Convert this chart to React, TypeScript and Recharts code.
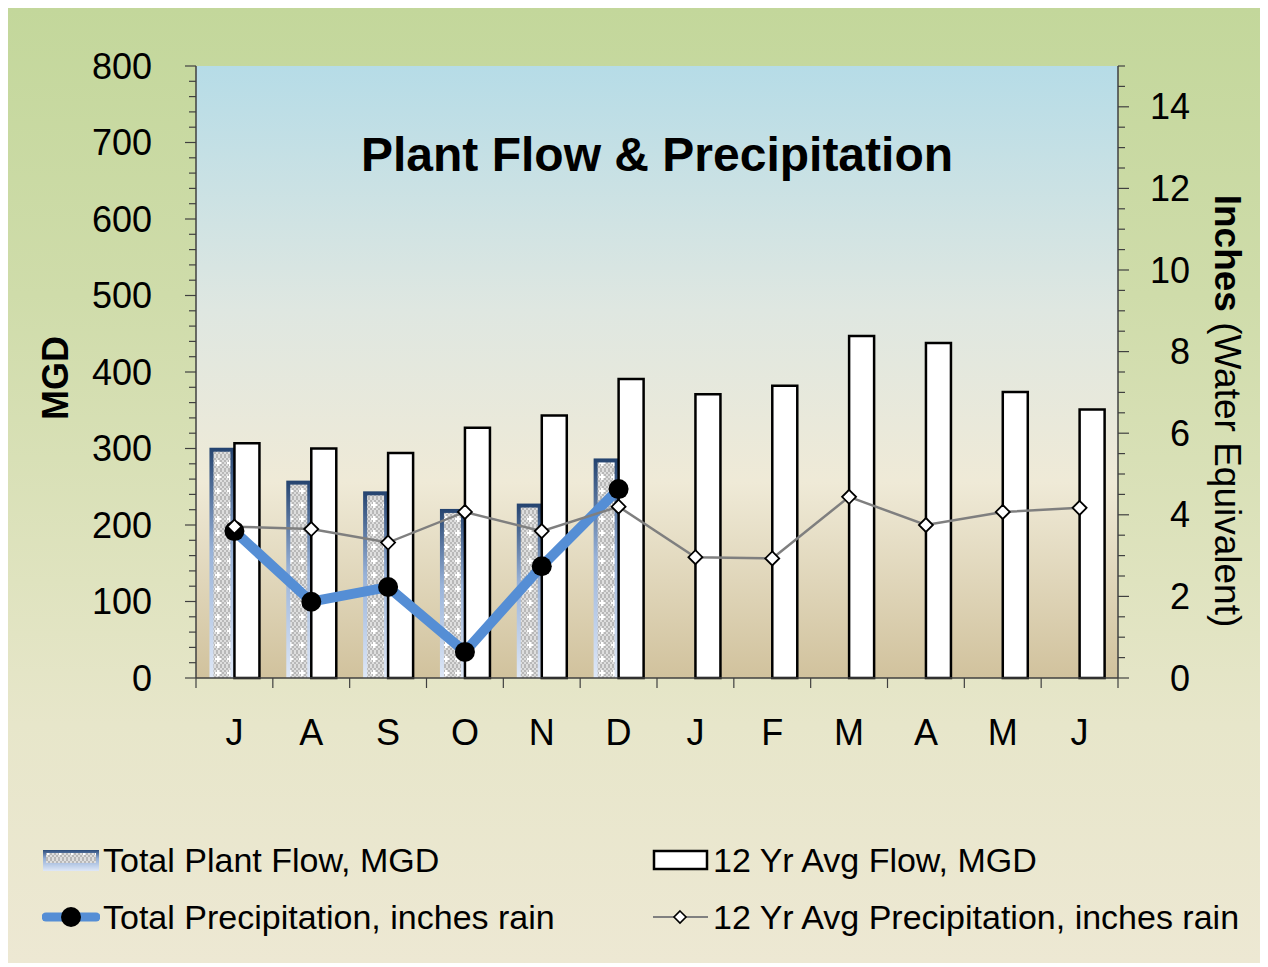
import {
  ComposedChart,
  Bar,
  Line,
  XAxis,
  YAxis,
  CartesianGrid,
  Legend,
} from "recharts";

const months = ["J", "A", "S", "O", "N", "D", "J", "F", "M", "A", "M", "J"];
const plantFlow = [301, 258, 244, 221, 228, 287, null, null, null, null, null, null];
const avgFlow = [307, 300, 294, 327, 343, 391, 371, 382, 447, 438, 374, 351];
const precip = [3.6, 1.87, 2.23, 0.64, 2.74, 4.63, null, null, null, null, null, null];
const avgPrecip = [3.71, 3.65, 3.32, 4.07, 3.6, 4.2, 2.96, 2.93, 4.44, 3.75, 4.07, 4.17];

const leftTicks = Array.from({ length: 41 }, (_, i) => i * 20);
const rightTicks = Array.from({ length: 31 }, (_, i) => i * 0.5);

const data = months.map((m, i) => ({
  key: `${i}`,
  month: m,
  plant: plantFlow[i],
  avgFlow: avgFlow[i],
  precip: precip[i],
  avgPrecip: avgPrecip[i],
}));

const W = 1254;
const H = 955;
const margin = { top: 58, left: 88, right: 44, bottom: 205 };
const plotW = W - margin.left - margin.right - 200;
const band = plotW / months.length;
const font = "'Liberation Sans', Arial, sans-serif";
const axisColor = "#404040";

const LeftTick = (props: any) => {
  const { x, y, payload } = props;
  const major = payload.value % 100 === 0;
  return (
    <g>
      <line x1={x - (major ? 11 : 7)} x2={x} y1={y} y2={y} stroke={axisColor} strokeWidth={1.2} />
      {major && (
        <text x={x - 44} y={y} textAnchor="end" dominantBaseline="central" fontSize={36} fontFamily={font} fill="#000">
          {payload.value}
        </text>
      )}
    </g>
  );
};

const RightTick = (props: any) => {
  const { x, y, payload } = props;
  const v = payload.value;
  const major = v % 2 === 0;
  return (
    <g>
      <line x1={x} x2={x + (major ? 11 : 7)} y1={y} y2={y} stroke={axisColor} strokeWidth={1.2} />
      {major && (
        <text x={x + 72} y={y} textAnchor="end" dominantBaseline="central" fontSize={36} fontFamily={font} fill="#000">
          {v}
        </text>
      )}
    </g>
  );
};

const XTick = (props: any) => {
  const { x, y, index } = props;
  return (
    <g>
      <line x1={x - band / 2} x2={x - band / 2} y1={y} y2={y + 10} stroke={axisColor} strokeWidth={1.2} />
      {index === months.length - 1 && (
        <line x1={x + band / 2} x2={x + band / 2} y1={y} y2={y + 10} stroke={axisColor} strokeWidth={1.2} />
      )}
      <text x={x} y={y + 54} textAnchor="middle" dominantBaseline="central" fontSize={36} fontFamily={font} fill="#000">
        {months[index]}
      </text>
    </g>
  );
};

const PlantBar = (props: any) => {
  const { x, y, width, height } = props;
  if (!height || height <= 0) return null;
  return (
    <g>
      <rect x={x} y={y} width={width} height={height} fill="url(#plantEdge)" />
      <rect x={x + 4} y={y + 4} width={width - 8} height={height - 4} fill="url(#plantFill)" />
    </g>
  );
};

const PrecipDot = (props: any) => {
  const { cx, cy, index } = props;
  if (cy == null || cx == null) return <g key={`pd${index}`} />;
  return <circle key={`pd${index}`} cx={cx} cy={cy} r={10} fill="#000" />;
};

const DiamondDot = (props: any) => {
  const { cx, cy, index } = props;
  if (cy == null || cx == null) return <g key={`ad${index}`} />;
  const s = 7;
  return (
    <path
      key={`ad${index}`}
      d={`M${cx},${cy - s}L${cx + s},${cy}L${cx},${cy + s}L${cx - s},${cy}Z`}
      fill="#fff"
      stroke="#000"
      strokeWidth={1.8}
    />
  );
};

const LeftLabel = (props: any) => {
  const { viewBox } = props;
  const cx = viewBox.x - 41;
  const cy = viewBox.y + viewBox.height / 2 + 6;
  return (
    <text
      x={cx}
      y={cy}
      transform={`rotate(-90 ${cx} ${cy})`}
      textAnchor="middle"
      dominantBaseline="central"
      fontSize={36}
      fontWeight="bold"
      fontFamily={font}
      fill="#000"
    >
      MGD
    </text>
  );
};

const RightLabel = (props: any) => {
  const { viewBox } = props;
  const cx = viewBox.x + 110;
  const cy = viewBox.y + viewBox.height / 2 + 39;
  return (
    <text
      x={cx}
      y={cy}
      transform={`rotate(90 ${cx} ${cy})`}
      textAnchor="middle"
      dominantBaseline="central"
      fontSize={37}
      fontFamily={font}
      fill="#000"
    >
      <tspan fontWeight="bold">Inches</tspan>
      <tspan> (Water Equivalent)</tspan>
    </text>
  );
};

const legendItems = [
  { label: "Total Plant Flow, MGD", kind: "plant", left: 34, top: 2 },
  { label: "12 Yr Avg Flow, MGD", kind: "avgFlow", left: 644, top: 2 },
  { label: "Total Precipitation, inches rain", kind: "precip", left: 34, top: 59 },
  { label: "12 Yr Avg Precipitation, inches rain", kind: "avgPrecip", left: 644, top: 59 },
];

const LegendIcon = ({ kind }: { kind: string }) => {
  return (
    <svg width={58} height={30} style={{ display: "block" }}>
      {kind === "plant" && (
        <g>
          <rect x={1} y={5} width={56} height={21} fill="url(#plantEdgeLegend)" />
          <rect x={4} y={8} width={50} height={10} fill="url(#plantFill)" />
        </g>
      )}
      {kind === "avgFlow" && <rect x={2} y={6} width={53} height={18} fill="#fff" stroke="#000" strokeWidth={2.5} />}
      {kind === "precip" && (
        <g>
          <line x1={4} x2={54} y1={15} y2={15} stroke="#558ed5" strokeWidth={9} strokeLinecap="round" />
          <circle cx={29} cy={15} r={10} fill="#000" />
        </g>
      )}
      {kind === "avgPrecip" && (
        <g>
          <line x1={1} x2={56} y1={15} y2={15} stroke="#808080" strokeWidth={2} />
          <path d="M28,9L34,15L28,21L22,15Z" fill="#fff" stroke="#000" strokeWidth={1.6} />
        </g>
      )}
    </svg>
  );
};

const CustomLegend = () => (
  <div style={{ position: "relative", width: W, height: 110 }}>
    {legendItems.map((it) => (
      <div
        key={it.label}
        style={{
          position: "absolute",
          left: it.left,
          top: it.top,
          height: 40,
          display: "flex",
          alignItems: "center",
          whiteSpace: "nowrap",
        }}
      >
        <LegendIcon kind={it.kind} />
        <span style={{ marginLeft: 3, fontSize: 34, fontFamily: font, color: "#000", lineHeight: "40px" }}>
          {it.label}
        </span>
      </div>
    ))}
  </div>
);

export default function App() {
  return (
    <div
      style={{
        position: "relative",
        width: W,
        height: H,
        background:
          "linear-gradient(to bottom, #c3d79b 0%, #cfdcaa 30%, #dfe3bf 60%, #e7e6ca 75%, #ede8d3 100%)",
      }}
    >
      <svg width={0} height={0} style={{ position: "absolute" }}>
        <defs>
          <linearGradient id="plotBg" x1="0" y1="0" x2="0" y2="1">
            <stop offset="0%" stopColor="#b6dce7" />
            <stop offset="40%" stopColor="#dfe7e1" />
            <stop offset="68%" stopColor="#efead7" />
            <stop offset="100%" stopColor="#d1c29d" />
          </linearGradient>
          <linearGradient id="plantEdge" x1="0" y1="0" x2="0" y2="1">
            <stop offset="0%" stopColor="#24436f" />
            <stop offset="45%" stopColor="#98b2d8" />
            <stop offset="100%" stopColor="#dfe8f7" />
          </linearGradient>
          <linearGradient id="plantEdgeLegend" x1="0" y1="0" x2="0" y2="1">
            <stop offset="0%" stopColor="#2a4a78" />
            <stop offset="40%" stopColor="#93aed6" />
            <stop offset="100%" stopColor="#dfe8f7" />
          </linearGradient>
          <pattern id="checker" width={4} height={4} patternUnits="userSpaceOnUse">
            <rect width={4} height={4} fill="#dedede" />
            <rect width={2} height={2} fill="#b8b8b8" />
            <rect x={2} y={2} width={2} height={2} fill="#b8b8b8" />
          </pattern>
          <pattern id="plantFill" width={12} height={14} patternUnits="userSpaceOnUse">
            <rect width={12} height={14} fill="url(#checker)" />
            <rect x={5} y={4} width={2} height={6} fill="#fff" />
            <rect x={3} y={6} width={6} height={2} fill="#fff" />
          </pattern>
        </defs>
      </svg>
      <ComposedChart
        width={W}
        height={H}
        data={data}
        margin={margin}
        barGap={0}
        barCategoryGap="17.5%"
      >
        <CartesianGrid horizontal={false} vertical={false} fill="url(#plotBg)" stroke="none" />
        <XAxis
          dataKey="key"
          xAxisId={0}
          height={80}
          interval={0}
          tickSize={0}
          tickMargin={0}
          tickLine={false}
          tick={<XTick />}
          axisLine={{ stroke: axisColor, strokeWidth: 1.5 }}
        />
        <YAxis
          yAxisId="left"
          orientation="left"
          width={100}
          domain={[0, 800]}
          ticks={leftTicks}
          interval={0}
          tickSize={0}
          tickMargin={0}
          tickLine={false}
          tick={<LeftTick />}
          axisLine={{ stroke: axisColor, strokeWidth: 1.5 }}
          label={{ content: <LeftLabel /> }}
        />
        <YAxis
          yAxisId="right"
          orientation="right"
          width={100}
          domain={[0, 15]}
          ticks={rightTicks}
          interval={0}
          tickSize={0}
          tickMargin={0}
          tickLine={false}
          tick={<RightTick />}
          axisLine={{ stroke: axisColor, strokeWidth: 1.5 }}
          label={{ content: <RightLabel /> }}
        />
        <Bar
          yAxisId="left"
          dataKey="plant"
          name="Total Plant Flow, MGD"
          shape={<PlantBar />}
          isAnimationActive={false}
        />
        <Bar
          yAxisId="left"
          dataKey="avgFlow"
          name="12 Yr Avg Flow, MGD"
          fill="#ffffff"
          stroke="#000000"
          strokeWidth={2.5}
          isAnimationActive={false}
        />
        <Line
          yAxisId="right"
          dataKey="precip"
          name="Total Precipitation, inches rain"
          stroke="#558ed5"
          strokeWidth={10}
          dot={PrecipDot}
          activeDot={false}
          isAnimationActive={false}
        />
        <Line
          yAxisId="right"
          dataKey="avgPrecip"
          name="12 Yr Avg Precipitation, inches rain"
          stroke="#7f7f7f"
          strokeWidth={2.5}
          dot={DiamondDot}
          activeDot={false}
          isAnimationActive={false}
        />
        <Legend
          layout="horizontal"
          verticalAlign="middle"
          align="center"
          wrapperStyle={{ left: 0, top: 830, width: W }}
          content={<CustomLegend />}
        />
      </ComposedChart>
      <div
        style={{
          position: "absolute",
          left: margin.left + 100,
          top: 123,
          width: plotW,
          textAlign: "center",
          fontFamily: font,
          fontWeight: "bold",
          fontSize: 48,
          lineHeight: "48px",
          color: "#000",
          pointerEvents: "none",
        }}
      >
        Plant Flow &amp; Precipitation
      </div>
    </div>
  );
}
